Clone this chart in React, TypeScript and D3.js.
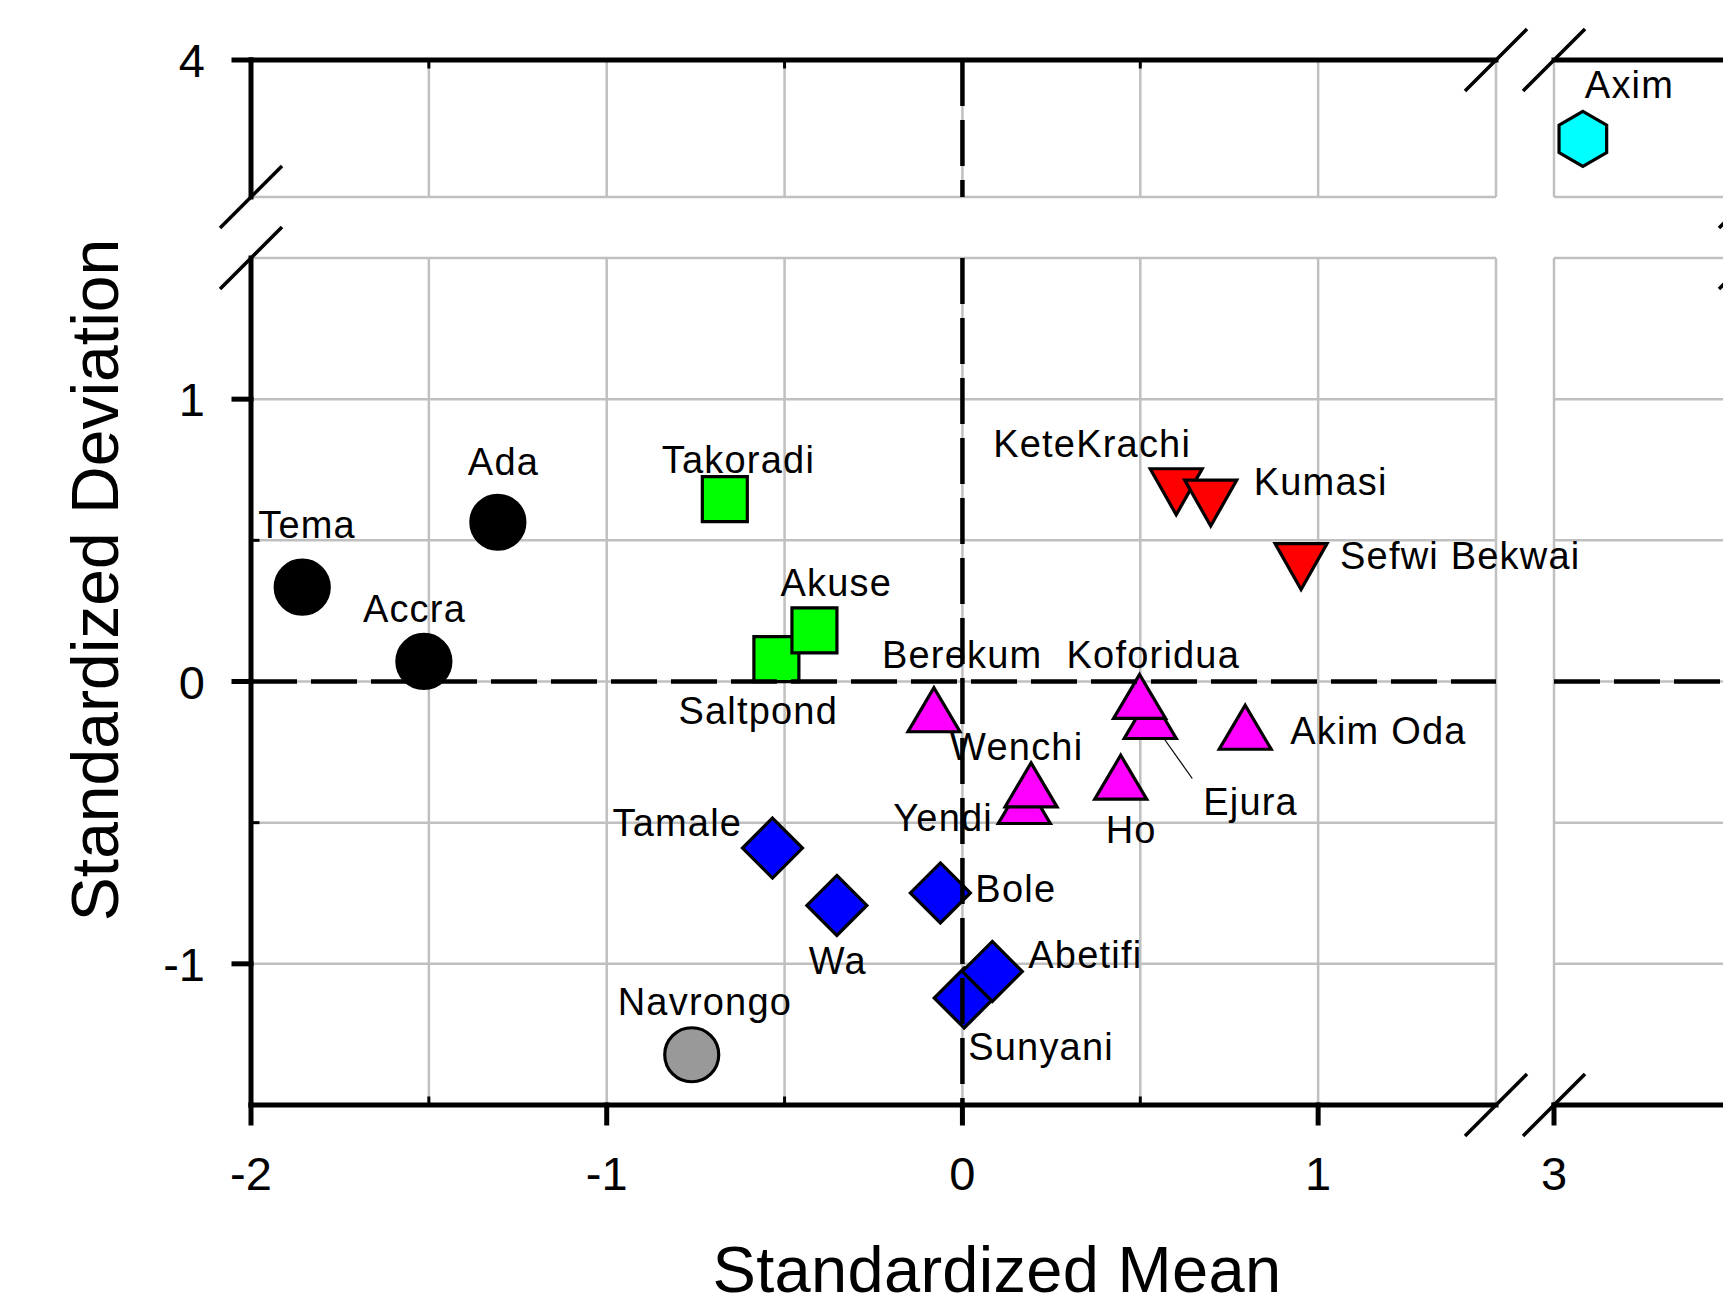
import { useEffect, useRef } from 'react'
import * as d3 from 'd3'

const W = 1723
const H = 1306

// broken axes: left/right x segments, bottom/top y segments
const X_LEFT: [number, number] = [-2, 1.5]
const X_RIGHT: [number, number] = [3, 3.55]
const Y_BOTTOM: [number, number] = [-1.5, 1.5]
const Y_TOP: [number, number] = [3.5, 4]

const X_TICKS = [-2, -1, 0, 1, 3]
const Y_TICKS = [-1, 0, 1, 4]
const X_MINOR = [-1.5, -0.5, 0.5]
const Y_MINOR = [-0.5, 0.5]

const GROUPS: Record<string, { shape: string; fill: string }> = {
  coast: { shape: 'circle', fill: '#000000' },
  north: { shape: 'circle', fill: '#999999' },
  west: { shape: 'square', fill: '#00ff00' },
  savanna: { shape: 'diamond', fill: '#0000ff' },
  forest: { shape: 'triangleUp', fill: '#ff00ff' },
  ashanti: { shape: 'triangleDown', fill: '#ff0000' },
  axim: { shape: 'hexagon', fill: '#00ffff' },
}

// draw order matters (later ones sit on top)
const STATIONS = ['Tema', 'Ada', 'Accra', 'Navrongo', 'Takoradi', 'Saltpond', 'Akuse', 'Tamale', 'Wa', 'Bole', 'Sunyani', 'Abetifi', 'Yendi', 'Wenchi', 'Berekum', 'Ejura', 'Koforidua', 'Ho', 'Akim Oda', 'KeteKrachi', 'Kumasi', 'Sefwi Bekwai', 'Axim']
const STD_MEAN = [-1.856, -1.306, -1.514, -0.761, -0.668, -0.523, -0.416, -0.534, -0.353, -0.062, 0.005, 0.084, 0.174, 0.193, -0.08, 0.528, 0.498, 0.445, 0.795, 0.601, 0.698, 0.952, 3.081]
const STD_DEV = [0.334, 0.564, 0.071, -1.322, 0.646, 0.079, 0.181, -0.59, -0.793, -0.749, -1.121, -1.027, -0.425, -0.366, -0.1, -0.124, -0.053, -0.339, -0.162, 0.672, 0.632, 0.407, 3.712]
const GROUP_OF = ['coast', 'coast', 'coast', 'north', 'west', 'west', 'west', 'savanna', 'savanna', 'savanna', 'savanna', 'savanna', 'forest', 'forest', 'forest', 'forest', 'forest', 'forest', 'forest', 'ashanti', 'ashanti', 'ashanti', 'axim']

// label placement (px offset of text start/baseline from marker centre)
const LABEL_OFFSET: Record<string, [number, number]> = {
  Tema: [-44, -49], Ada: [-30, -47], Accra: [-61, -39], Navrongo: [-74, -40],
  Takoradi: [-63, -26], Saltpond: [-98, 65], Akuse: [-34, -34],
  Tamale: [-160, -12], Wa: [-28, 69], Bole: [35, 9], Sunyani: [4, 62], Abetifi: [36, -3],
  Yendi: [-131, 30], Wenchi: [-81, -25], Berekum: [-52, -42], Ejura: [53, 98],
  Koforidua: [-73, -28], Ho: [-15, 66], 'Akim Oda': [45, 17],
  KeteKrachi: [-183, -35], Kumasi: [43, -8], 'Sefwi Bekwai': [39, 2], Axim: [2, -41],
}
const LEADERS: Record<string, [number, number, number, number]> = { Ejura: [13, 21, 42, 62] }

const FONT = '"Liberation Sans", Arial, sans-serif'

function shapePath(shape: string, cx: number, cy: number) {
  const p = d3.path()
  if (shape === 'circle') {
    p.moveTo(cx + 27, cy); p.arc(cx, cy, 27, 0, Math.PI * 2)
  } else if (shape === 'square') {
    p.rect(cx - 22.5, cy - 22.5, 45, 45)
  } else if (shape === 'diamond') {
    p.moveTo(cx, cy - 30); p.lineTo(cx + 30, cy); p.lineTo(cx, cy + 30); p.lineTo(cx - 30, cy); p.closePath()
  } else if (shape === 'triangleUp') {
    p.moveTo(cx, cy - 22); p.lineTo(cx + 26, cy + 22); p.lineTo(cx - 26, cy + 22); p.closePath()
  } else if (shape === 'triangleDown') {
    p.moveTo(cx - 26, cy - 23); p.lineTo(cx + 26, cy - 23); p.lineTo(cx, cy + 23); p.closePath()
  } else {
    const r = 27.5
    for (let k = 0; k < 6; k++) {
      const a = -Math.PI / 2 + (k * Math.PI) / 3
      if (k === 0) p.moveTo(cx + r * Math.cos(a), cy + r * Math.sin(a))
      else p.lineTo(cx + r * Math.cos(a), cy + r * Math.sin(a))
    }
    p.closePath()
  }
  return p.toString()
}

export default function App() {
  const svgRef = useRef<SVGSVGElement>(null)

  useEffect(() => {
    const svg = d3.select(svgRef.current)
    svg.selectAll('*').remove()

    const xL = d3.scaleLinear().domain(X_LEFT).range([251, 1496])
    const xR = d3.scaleLinear().domain(X_RIGHT).range([1554, 1750])
    const yB = d3.scaleLinear().domain(Y_BOTTOM).range([1105, 258])
    const yT = d3.scaleLinear().domain(Y_TOP).range([197, 60])
    const xs = (v: number) => (v >= X_RIGHT[0] ? xR(v) : xL(v))
    const ys = (v: number) => (v >= Y_TOP[0] ? yT(v) : yB(v))

    svg.append('rect').attr('width', W).attr('height', H).attr('fill', '#fff')

    // grid per panel
    const steps = (d: [number, number]) => d3.range(Math.ceil(d[0] / 0.5) * 0.5, d[1] + 1e-9, 0.5)
    const grid = svg.append('g').attr('stroke', '#c0c0c0').attr('stroke-width', 2.5)
    ;[xL, xR].forEach((x) => {
      ;[yB, yT].forEach((y) => {
        const xd = x.domain() as [number, number]
        const yd = y.domain() as [number, number]
        steps(xd).forEach((v) => {
          grid.append('line').attr('x1', x(v)).attr('x2', x(v)).attr('y1', y(yd[0])).attr('y2', y(yd[1]))
        })
        steps(yd).forEach((v) => {
          grid.append('line').attr('x1', x(xd[0])).attr('x2', x(xd[1])).attr('y1', y(v)).attr('y2', y(v))
        })
      })
    })

    // markers
    const pts = svg.append('g')
    STATIONS.forEach((name, i) => {
      const g = GROUPS[GROUP_OF[i]]
      const cx = xs(STD_MEAN[i])
      const cy = ys(STD_DEV[i])
      pts.append('path').attr('d', shapePath(g.shape, cx, cy))
        .attr('fill', g.fill).attr('stroke', '#000').attr('stroke-width', 3.2)
        .attr('stroke-linejoin', 'miter')
    })

    // labels
    const labels = svg.append('g').attr('font-family', FONT).attr('font-size', 38)
      .attr('letter-spacing', 1.2).attr('fill', '#000')
    STATIONS.forEach((name, i) => {
      const cx = xs(STD_MEAN[i])
      const cy = ys(STD_DEV[i])
      const [dx, dy] = LABEL_OFFSET[name]
      labels.append('text').attr('x', cx + dx).attr('y', cy + dy).text(name)
      const ld = LEADERS[name]
      if (ld) {
        svg.append('line').attr('x1', cx + ld[0]).attr('y1', cy + ld[1]).attr('x2', cx + ld[2]).attr('y2', cy + ld[3])
          .attr('stroke', '#000').attr('stroke-width', 1.2)
      }
    })

    // dashed zero lines (on top of markers)
    const dash = svg.append('g').attr('stroke', '#000').attr('stroke-width', 4.5).attr('stroke-dasharray', '46,14').attr('fill', 'none')
    ;[xL, xR].forEach((x) => {
      const xd = x.domain() as [number, number]
      dash.append('line').attr('x1', x(xd[0])).attr('x2', x(xd[1])).attr('y1', yB(0)).attr('y2', yB(0))
    })
    ;[yT, yB].forEach((y) => {
      const yd = y.domain() as [number, number]
      dash.append('line').attr('x1', xL(0)).attr('x2', xL(0)).attr('y1', y(yd[1])).attr('y2', y(yd[0]))
    })

    // axes
    const ax = svg.append('g').attr('stroke', '#000').attr('stroke-width', 5).attr('stroke-linecap', 'square')
    const seg = (x1: number, y1: number, x2: number, y2: number, w = 5) =>
      ax.append('line').attr('x1', x1).attr('y1', y1).attr('x2', x2).attr('y2', y2).attr('stroke-width', w)
    ;[xL, xR].forEach((x) => {
      const xd = x.domain() as [number, number]
      seg(x(xd[0]), yB(Y_BOTTOM[0]), x(xd[1]), yB(Y_BOTTOM[0]))
      seg(x(xd[0]), yT(Y_TOP[1]), x(xd[1]), yT(Y_TOP[1]))
    })
    ;[yB, yT].forEach((y) => {
      const yd = y.domain() as [number, number]
      seg(xL(X_LEFT[0]), y(yd[0]), xL(X_LEFT[0]), y(yd[1]))
      seg(xR(X_RIGHT[1]), y(yd[0]), xR(X_RIGHT[1]), y(yd[1]))
    })
    // major ticks (outward)
    X_TICKS.forEach((v) => seg(xs(v), yB(Y_BOTTOM[0]), xs(v), yB(Y_BOTTOM[0]) + 18))
    Y_TICKS.forEach((v) => seg(xL(X_LEFT[0]) - 17, ys(v), xL(X_LEFT[0]), ys(v)))
    // minor ticks (inward)
    X_MINOR.forEach((v) => {
      seg(xL(v), yB(Y_BOTTOM[0]), xL(v), yB(Y_BOTTOM[0]) - 7, 3)
      seg(xL(v), yT(Y_TOP[1]), xL(v), yT(Y_TOP[1]) + 7, 3)
    })
    Y_MINOR.forEach((v) => seg(xL(X_LEFT[0]), yB(v), xL(X_LEFT[0]) + 7, yB(v), 3))

    // break marks
    const brk = (cx: number, cy: number) =>
      svg.append('line').attr('x1', cx - 31).attr('y1', cy + 31).attr('x2', cx + 31).attr('y2', cy - 31)
        .attr('stroke', '#000').attr('stroke-width', 3.5)
    ;[yT(Y_TOP[0]), yB(Y_BOTTOM[1])].forEach((y) => { brk(xL(X_LEFT[0]), y); brk(xR(X_RIGHT[1]), y) })
    ;[xL(X_LEFT[1]), xR(X_RIGHT[0])].forEach((x) => { brk(x, yB(Y_BOTTOM[0])); brk(x, yT(Y_TOP[1])) })

    // tick labels
    const tl = svg.append('g').attr('font-family', FONT).attr('font-size', 47).attr('fill', '#000')
    X_TICKS.forEach((v) => {
      tl.append('text').attr('x', xs(v)).attr('y', 1190).attr('text-anchor', 'middle').text(String(v))
    })
    Y_TICKS.forEach((v) => {
      tl.append('text').attr('x', 205).attr('y', ys(v) + 17).attr('text-anchor', 'end').text(String(v))
    })

    // axis titles
    svg.append('text').attr('x', 997).attr('y', 1292).attr('text-anchor', 'middle')
      .attr('font-family', FONT).attr('font-size', 65).attr('letter-spacing', 0.3).attr('fill', '#000').text('Standardized Mean')
    svg.append('text').attr('transform', 'translate(118,580) rotate(-90)').attr('text-anchor', 'middle')
      .attr('font-family', FONT).attr('font-size', 66).attr('fill', '#000').text('Standardized Deviation')
  }, [])

  return (
    <svg ref={svgRef} width={W} height={H} style={{ position: 'absolute', left: 0, top: 0, display: 'block' }} />
  )
}
